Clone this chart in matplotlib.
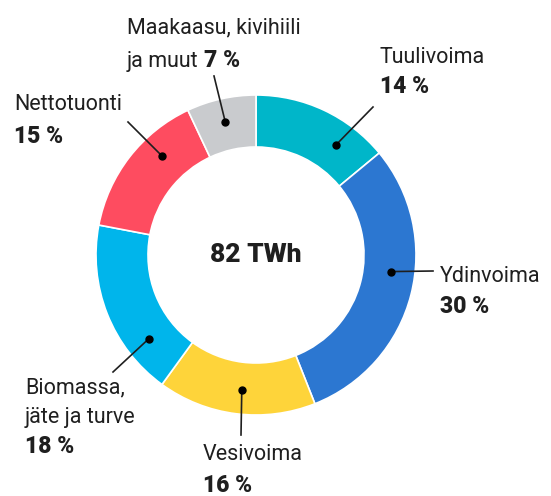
import matplotlib
matplotlib.use("Agg")
import matplotlib.pyplot as plt
import numpy as np

# ---- data ----
categories = ["Tuulivoima", "Ydinvoima", "Vesivoima", "Biomassa, jäte ja turve",
              "Nettotuonti", "Maakaasu, kivihiili ja muut"]
shares = [14, 30, 16, 18, 15, 7]
colors = ["#00b6c9", "#2c77d1", "#fed43a", "#00b5eb", "#fe4c60", "#c9cbce"]
label_lines = [["Tuulivoima"], ["Ydinvoima"], ["Vesivoima"],
               ["Biomassa,", "jäte ja turve"], ["Nettotuonti"],
               ["Maakaasu, kivihiili", "ja muut "]]
total_label = "82 TWh"

# ---- layout (pixel coords, y from top) ----
W, H = 551, 496
CX, CY = 256, 255
R_OUT, RING = 160, 52
dot_angles = [36, 97, 186, 232, 316.5, 347]   # degrees clockwise from top
dot_r = 136
line_ends = [(373, 107), (433, 271), (241, 435), (113, 372), (128, 122), (214, 76)]
# (x, first baseline, line spacing, pct on separate line?)
text_pos = [(380, 63, 30, True), (440, 282, 31, True), (203, 460, 32, True),
            (25, 393, 30, True), (14, 110, 33, True), (127, 33, 34, False)]

FONT = "Roboto"
TXT = "#1f1f1f"

fig = plt.figure(figsize=(W / 100, H / 100), dpi=100)
ax = fig.add_axes([0, 0, 1, 1])
ax.set_xlim(0, W)
ax.set_ylim(0, H)
ax.axis("off")

def fy(y):
    return H - y

ax.pie(shares, colors=colors, startangle=90, counterclock=False,
       center=(CX, fy(CY)), radius=R_OUT,
       wedgeprops=dict(width=RING, edgecolor="white", linewidth=1.2))
ax.set_xlim(0, W)
ax.set_ylim(0, H)
ax.set_aspect("equal")

ax.text(CX, fy(CY), total_label, ha="center", va="center", fontsize=19,
        fontweight="heavy", family=FONT, color=TXT)

for i, cat in enumerate(categories):
    a = np.deg2rad(dot_angles[i])
    dx = CX + dot_r * np.sin(a)
    dy = CY - dot_r * np.cos(a)
    ex, ey = line_ends[i]
    ax.plot([dx, ex], [fy(dy), fy(ey)], color=TXT, lw=1.2, zorder=5)
    ax.plot([dx], [fy(dy)], "o", color="black", ms=5, zorder=6)

    tx, ty, sp, sep = text_pos[i]
    lines = label_lines[i]
    last = None
    for j, ln in enumerate(lines):
        last = ax.text(tx, fy(ty + j * sp), ln, ha="left", va="baseline",
                       fontsize=15.5, family=FONT, color=TXT)
    pct = f"{shares[i]} %"
    if sep:
        ax.text(tx, fy(ty + len(lines) * sp), pct, ha="left", va="baseline",
                fontsize=16.5, fontweight="heavy", family=FONT, color=TXT)
    else:
        ax.annotate(pct, xy=(1, 0), xycoords=last, ha="left", va="bottom",
                    fontsize=16.5, fontweight="heavy", family=FONT, color=TXT)

fig.savefig("out.png", dpi=100)
